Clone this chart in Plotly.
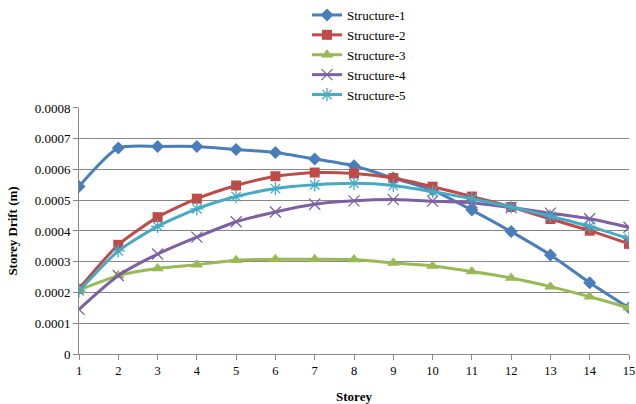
import plotly.graph_objects as go

storeys = list(range(1, 16))
structure_1 = [0.000545, 0.00067, 0.000675, 0.000675, 0.000665, 0.000655, 0.000634, 0.000612,
               0.000572, 0.000533, 0.000468, 0.000398, 0.000322, 0.000232, 0.000150]
structure_2 = [0.000212, 0.000355, 0.000445, 0.000505, 0.000548, 0.000578, 0.000590, 0.000587,
               0.000572, 0.000544, 0.000512, 0.000478, 0.000439, 0.000401, 0.000358]
structure_3 = [0.000208, 0.000255, 0.000278, 0.000290, 0.000305, 0.000308, 0.000308, 0.000307,
               0.000296, 0.000286, 0.000268, 0.000247, 0.000219, 0.000186, 0.000150]
structure_4 = [0.000145, 0.000255, 0.000325, 0.000380, 0.000430, 0.000462, 0.000487, 0.000498,
               0.000502, 0.000497, 0.000492, 0.000476, 0.000458, 0.000440, 0.000412]
structure_5 = [0.000205, 0.000335, 0.000415, 0.000472, 0.000512, 0.000538, 0.000550, 0.000555,
               0.000548, 0.000528, 0.000505, 0.000478, 0.000448, 0.000415, 0.000375]
y_ticks = [0, 0.0001, 0.0002, 0.0003, 0.0004, 0.0005, 0.0006, 0.0007, 0.0008]
y_tick_labels = ["0", "0.0001", "0.0002", "0.0003", "0.0004", "0.0005", "0.0006", "0.0007", "0.0008"]

series = [
    ("Structure-1", structure_1, "#4A7EBB", "diamond", 10, 0),
    ("Structure-2", structure_2, "#BE4B48", "square", 10, 0),
    ("Structure-3", structure_3, "#98B954", "triangle-up", 11, 0),
    ("Structure-4", structure_4, "#7D60A0", "x-thin-open", 11, 1.3),
    ("Structure-5", structure_5, "#46AAC5", "asterisk-open", 11, 1.3),
]

fig = go.Figure()
for name, vals, color, symbol, size, lw in series:
    fig.add_trace(go.Scatter(
        x=storeys, y=vals, name=name, mode="lines+markers",
        line=dict(color=color, width=3, shape="spline", smoothing=0.6),
        marker=dict(symbol=symbol, size=size, color=color,
                    line=dict(color=color, width=lw)),
    ))

ff = "Times New Roman, Liberation Serif, Tinos, DejaVu Serif, serif"
fig.update_layout(
    width=636, height=404,
    margin=dict(l=79, r=7, t=0, b=50, autoexpand=False),
    paper_bgcolor="white", plot_bgcolor="white",
    font=dict(family=ff, size=12, color="black"),
    showlegend=True,
    legend=dict(x=0.4145, xanchor="left", y=1.0, yanchor="top",
                font=dict(family=ff, size=13, color="black"),
                bgcolor="rgba(0,0,0,0)", tracegroupgap=0),
    xaxis=dict(range=[1, 15], tickmode="array", tickvals=storeys,
               ticks="outside", ticklen=5, tickcolor="#868686",
               showline=True, linecolor="#868686", linewidth=1,
               showgrid=False, zeroline=False, automargin=False,
               ticklabeloverflow="allow",
               title=dict(text="<b>Storey</b>", font=dict(family=ff, size=13, color="black"), standoff=14),
               tickfont=dict(family=ff, size=12.5, color="black")),
    yaxis=dict(range=[0, 0.0008], tickmode="array", tickvals=y_ticks, ticktext=y_tick_labels,
               domain=[0, 0.695],
               ticks="outside", ticklen=5, tickcolor="#868686",
               showline=True, linecolor="#868686", linewidth=1,
               showgrid=True, gridcolor="#868686", gridwidth=1, zeroline=False, automargin=False,
               title=dict(text="<b>Storey Drift (m)</b>", font=dict(family=ff, size=13, color="black"), standoff=14),
               tickfont=dict(family=ff, size=13, color="black")),
)

fig.write_html("out.html", config={"displayModeBar": False},
               post_script="document.body.style.margin='0';document.body.style.overflow='hidden';")
